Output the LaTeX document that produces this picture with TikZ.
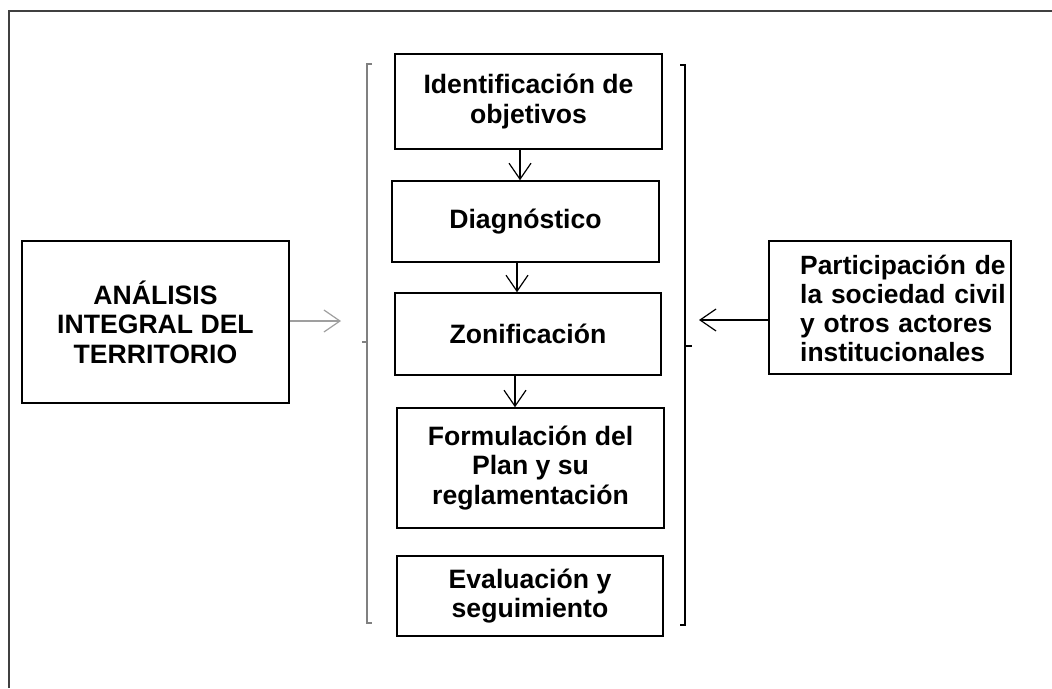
\documentclass[tikz,border=0pt]{standalone}
\usepackage{fontspec}
\setmainfont{Liberation Sans}
\usetikzlibrary{arrows.meta}
\begin{document}
\begin{tikzpicture}[x=1pt,y=-1pt,
  box/.style={draw=black, line width=1.5pt, inner sep=0pt, align=center,
    font=\bfseries\fontsize{26.6pt}{29.5pt}\selectfont},
  flow/.style={line width=1.2pt, -{Straight Barb[length=16pt,width=22pt,line width=1.2pt]}},
  frame/.style={line width=2pt, black!75},
]
\useasboundingbox (0,0) rectangle (1052,688);
% frame (top and left edges)
\draw[frame] (9,688) -- (9,11) -- (1052,11);

% central column
\node[box, minimum width=267pt, minimum height=95pt] (ident) at (528.5,101.5) {Identificación de\\objetivos};
\node[box, minimum width=267pt, minimum height=81pt] (diag) at (525.5,221.5) {Diagnóstico};
\node[box, minimum width=266pt, minimum height=82pt] (zon) at (528,334) {Zonificación};
\node[box, minimum width=267pt, minimum height=120pt] (form) at (530.5,468) {Formulación del\\Plan y su\\reglamentación};
\node[box, minimum width=266pt, minimum height=80pt] (eval) at (530,596) {Evaluación y\\seguimiento};

% side boxes
\node[box, minimum width=267pt, minimum height=162pt] (anal) at (155.5,322) {ANÁLISIS\\INTEGRAL DEL\\TERRITORIO};
\node[box, minimum width=242pt, minimum height=133pt] (part) at (890,307.5) {};
\node[anchor=north west, inner sep=0pt, text width=230pt, align=left,
  font=\bfseries\fontsize{26.4pt}{29pt}\selectfont] (parttext) at (800,255)
  {Participación de\\la sociedad civil\\\makebox[205pt][s]{y otros actores}\\institucionales};

% brackets
\draw[gray, line width=1.5pt] (372,64) -- (367,64) -- (367,623) -- (372,623);
\draw[gray, line width=1.5pt] (367,342) -- (362,342);
\draw[black, line width=2pt] (680,65) -- (685,65) -- (685,625) -- (680,625);
\draw[black, line width=2pt] (685,346) -- (692,346);

% arrows
\coordinate (a1) at (520,0);
\coordinate (a2) at (517,0);
\coordinate (a3) at (515,0);
\draw[flow] (ident.south -| a1) -- (diag.north -| a1);
\draw[flow] (diag.south -| a2) -- (zon.north -| a2);
\draw[flow] (zon.south -| a3) -- (form.north -| a3);

\coordinate (lb) at (341,321);
\coordinate (rb) at (699,320);
\draw[flow, gray!75] (anal.east |- lb) -- (lb);
\draw[flow, black] (part.west |- rb) -- (rb);
\end{tikzpicture}
\end{document}
